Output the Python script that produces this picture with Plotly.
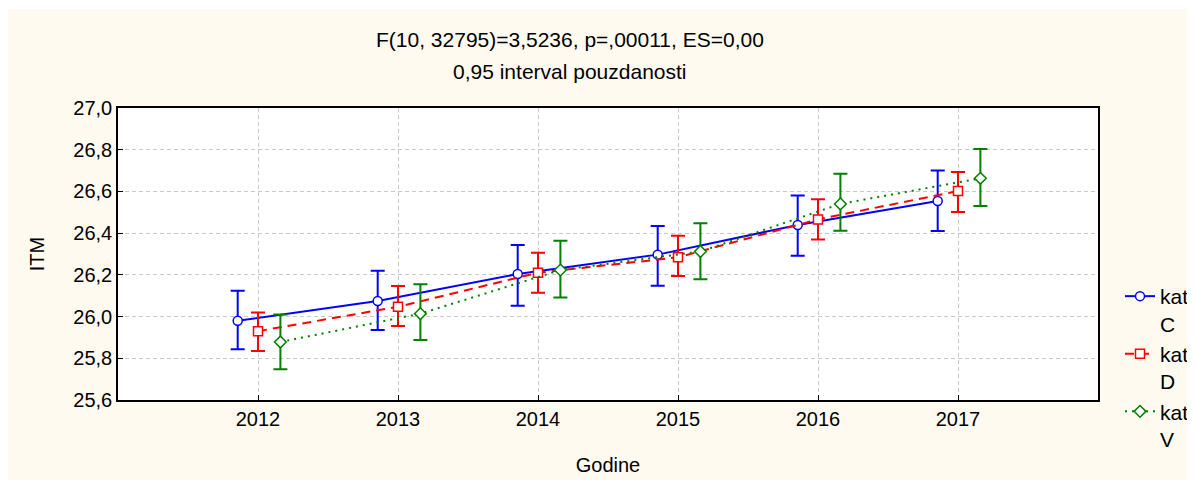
import plotly.graph_objects as go

years = [2012, 2013, 2014, 2015, 2016, 2017]

kat_C_mean = [25.98, 26.075, 26.204, 26.297, 26.439, 26.554]
kat_C_low = [25.843, 25.936, 26.052, 26.148, 26.292, 26.41]
kat_C_high = [26.124, 26.22, 26.343, 26.434, 26.581, 26.70]

kat_D_mean = [25.93, 26.047, 26.21, 26.284, 26.466, 26.602]
kat_D_low = [25.835, 25.955, 26.114, 26.195, 26.37, 26.501]
kat_D_high = [26.02, 26.147, 26.306, 26.388, 26.562, 26.693]

kat_V_mean = [25.878, 26.014, 26.223, 26.312, 26.54, 26.663]
kat_V_low = [25.747, 25.888, 26.092, 26.179, 26.412, 26.53]
kat_V_high = [26.01, 26.155, 26.364, 26.447, 26.685, 26.803]

series = [
    ("kat<br>C", kat_C_mean, kat_C_low, kat_C_high, -0.145, "#0000ff", "solid", "circle"),
    ("kat<br>D", kat_D_mean, kat_D_low, kat_D_high, 0.0, "#ff0000", "9px,6px", "square"),
    ("kat<br>V", kat_V_mean, kat_V_low, kat_V_high, 0.16, "#008000", "2px,5px", "diamond"),
]

FONT = "Liberation Sans, Arial, sans-serif"

fig = go.Figure()
for i, (name, mean, low, high, off, color, dash, sym) in enumerate(series):
    fig.add_trace(go.Scatter(
        x=[y + off for y in years],
        y=mean,
        name=name,
        mode="lines+markers",
        line=dict(color=color, width=2, dash=dash),
        marker=dict(symbol=sym, size=9, color="white",
                    line=dict(color=color, width=1.5)),
        error_y=dict(type="data", symmetric=False,
                     array=[h - m for h, m in zip(high, mean)],
                     arrayminus=[m - l for m, l in zip(mean, low)],
                     color=color, thickness=2, width=7),
    ))

# page has an 8px body margin; figure coords = page coords - 8
OFF = 8
W, H = 1187, 477
L, T = 118 - OFF, 108 - OFF
R = W - (1098 - OFF)
B = H - (400 - OFF)
pw, ph = W - L - R, H - T - B

def px_x(v):
    return (v - OFF - L) / pw

def px_y(v):
    return (H - B - (v - OFF)) / ph

fig.add_shape(type="rect", xref="paper", yref="paper",
              x0=px_x(7), x1=px_x(1195), y0=px_y(480), y1=px_y(9),
              fillcolor="#fffaf0", line=dict(width=0), layer="below")
fig.add_shape(type="rect", xref="paper", yref="paper",
              x0=0, x1=1, y0=0, y1=1,
              fillcolor="white", line=dict(width=0), layer="below")

fig.add_annotation(text="F(10, 32795)=3,5236, p=,00011, ES=0,00",
                   xref="paper", yref="paper", x=px_x(570), y=px_y(40),
                   showarrow=False, font=dict(size=21, color="black", family=FONT),
                   xanchor="center", yanchor="middle")
fig.add_annotation(text="0,95 interval pouzdanosti",
                   xref="paper", yref="paper", x=px_x(570), y=px_y(72),
                   showarrow=False, font=dict(size=21, color="black", family=FONT),
                   xanchor="center", yanchor="middle")

fig.update_layout(
    width=W, height=H,
    margin=dict(l=L, r=R, t=T, b=B, autoexpand=False),
    paper_bgcolor="white",
    plot_bgcolor="rgba(0,0,0,0)",
    separators=", ",
    font=dict(family=FONT, size=20, color="black"),
    showlegend=True,
    legend=dict(x=px_x(1120), y=px_y(276), xanchor="left", yanchor="top",
                bgcolor="rgba(0,0,0,0)", valign="top",
                font=dict(size=21, color="black", family=FONT),
                tracegroupgap=0),
    xaxis=dict(range=[2011, 2018], tickvals=years, ticktext=[str(y) for y in years],
               showgrid=True, gridcolor="#c8c8c8", griddash="4px,3px", gridwidth=1,
               showline=True, linecolor="black", linewidth=1.5, mirror=True,
               ticks="inside", ticklen=5, tickcolor="black",
               zeroline=False, tickfont=dict(size=20),
               title=dict(text="Godine", font=dict(size=20), standoff=29)),
    yaxis=dict(range=[25.6, 27.0], dtick=0.2, tick0=25.6, tickformat=".1f",
               showgrid=True, gridcolor="#c8c8c8", griddash="4px,3px", gridwidth=1,
               showline=True, linecolor="black", linewidth=1.5, mirror=True,
               ticks="inside", ticklen=5, tickcolor="black",
               zeroline=False, tickfont=dict(size=20),
               title=dict(text="ITM", font=dict(size=20), standoff=23)),
)

fig.write_html("out.html")
